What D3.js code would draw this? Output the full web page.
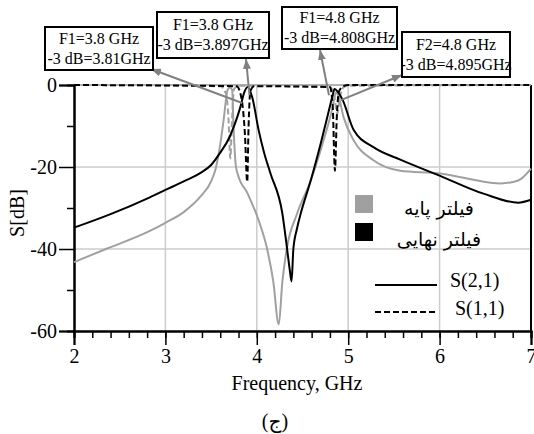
<!DOCTYPE html>
<html>
<head>
<meta charset="utf-8">
<script src="https://cdn.jsdelivr.net/npm/d3@7"></script>
<style>
  body { margin: 0; background: #fff; }
  svg { display: block; font-family: "Liberation Serif", "Times New Roman", "DejaVu Sans", serif; }
</style>
</head>
<body>
<svg id="chart" width="534" height="434"></svg>
<script>
// [frequency GHz, dB]
const baseS21 = [
  [2.0, -43.2], [2.35, -40.0], [2.83, -35.6], [3.0, -33.6], [3.2, -31.0],
  [3.38, -27.3], [3.5, -23.5], [3.55, -20.4], [3.6, -14.5], [3.64, -8.0], [3.68, -1.2],
  [3.705, -0.6], [3.73, -1.2], [3.745, -10.0], [3.77, -19.6], [3.79, -21.6], [3.9, -26.5],
  [4.02, -33.0], [4.11, -39.7], [4.18, -47.9], [4.24, -58.4], [4.28, -47.9], [4.33, -39.7],
  [4.44, -31.4], [4.59, -23.3], [4.73, -13.5], [4.83, -5.4], [4.865, -1.8], [4.89, -2.5],
  [4.95, -7.9], [5.06, -13.5], [5.28, -18.4], [5.57, -20.9], [6.01, -21.6], [6.3, -22.8],
  [6.67, -24.0], [6.86, -23.3], [7.0, -20.4]
];
const baseS11 = [
  [2.0, 0], [3.6, -0.3], [3.66, -2.0], [3.69, -8.0], [3.71, -17.9], [3.73, -8.0],
  [3.75, -1.0], [3.8, -0.2], [4.8, -0.5], [4.85, -3.0], [4.88, -7.0], [4.91, -3.0],
  [4.95, -0.5], [5.0, -0.2], [7.0, 0]
];
const finalS21 = [
  [2.0, -34.8], [2.4, -31.5], [2.83, -27.4], [3.0, -25.6], [3.2, -23.5],
  [3.38, -21.5], [3.5, -19.5], [3.6, -16.5], [3.7, -12.8], [3.76, -9.5], [3.82, -5.4],
  [3.86, -2.0], [3.9, -0.5], [3.95, -3.0], [4.02, -11.0], [4.08, -16.5], [4.15, -21.6],
  [4.28, -31.4], [4.33, -39.7], [4.36, -45.0], [4.38, -47.9], [4.40, -40.0], [4.44, -35.0],
  [4.48, -31.4], [4.59, -23.3], [4.70, -14.2], [4.79, -6.1], [4.83, -2.5], [4.85, -1.0],
  [4.88, -1.5], [4.94, -3.7], [5.06, -11.0], [5.28, -15.2], [5.57, -18.2], [6.0, -22.1],
  [6.48, -26.5], [6.86, -28.7], [7.0, -28.0]
];
const finalS11 = [
  [2.0, 0], [3.78, -0.3], [3.83, -3.0], [3.87, -12.0], [3.895, -23.6], [3.91, -10.0],
  [3.93, -1.5], [3.97, -0.3], [4.8, -0.5], [4.83, -5.0], [4.855, -20.9], [4.875, -8.0],
  [4.9, -1.5], [4.95, -0.3], [5.0, 0], [7.0, 0]
];

const xTicks = [2, 3, 4, 5, 6, 7];
const yTicks = [0, -20, -40, -60];
const notes = [
  ["F1=3.8 GHz", "-3 dB=3.81GHz"],
  ["F1=3.8 GHz", "-3 dB=3.897GHz"],
  ["F1=4.8 GHz", "-3 dB=4.808GHz"],
  ["F2=4.8 GHz", "-3 dB=4.895GHz"]
];
// where each arrow leaves the curves [GHz, dB]
const noteTargets = [[3.84, -4.4], [3.92, -2.5], [4.79, -2.5], [4.92, -3.7]];
const filterNames = ["فیلتر پایه", "فیلتر نهایی"];
const paramNames = ["S(2,1)", "S(1,1)"];

const svg = d3.select("#chart");
const x = d3.scaleLinear().domain([2, 7]).range([74, 531]);
const y = d3.scaleLinear().domain([0, -60]).range([85, 331]);
const grey = "#a0a0a0";
const fmt = d => String(d); // plain hyphen minus like the original

// grid
svg.append("g").selectAll("line").data([3, 4, 5, 6]).join("line")
  .attr("x1", d => x(d)).attr("x2", d => x(d))
  .attr("y1", y(0)).attr("y2", y(-60))
  .attr("stroke", "#cccccc").attr("stroke-width", 1.5);
svg.append("g").selectAll("line").data([-20, -40]).join("line")
  .attr("x1", x(2)).attr("x2", x(7))
  .attr("y1", d => y(d)).attr("y2", d => y(d))
  .attr("stroke", "#cccccc").attr("stroke-width", 1.5);

// frame: grey top, black right
svg.append("line").attr("x1", x(2)).attr("x2", x(7)).attr("y1", y(0)).attr("y2", y(0))
  .attr("stroke", "#999").attr("stroke-width", 1.5);
svg.append("line").attr("x1", x(7)).attr("x2", x(7)).attr("y1", y(0)).attr("y2", y(-60))
  .attr("stroke", "#000").attr("stroke-width", 2);

// axes
svg.append("g").attr("transform", `translate(0,${y(-60)})`)
  .call(d3.axisBottom(x).tickValues(d3.range(2, 7.01, 0.2)).tickSize(7).tickFormat(""));
svg.append("g").attr("transform", `translate(0,${y(-60)})`)
  .call(d3.axisBottom(x).tickValues(xTicks).tickSize(14).tickPadding(4).tickFormat(fmt));
svg.append("g").attr("transform", `translate(${x(2)},0)`)
  .call(d3.axisLeft(y).tickValues([-10, -30, -50]).tickSize(7).tickFormat(""));
svg.append("g").attr("transform", `translate(${x(2)},0)`)
  .call(d3.axisLeft(y).tickValues(yTicks).tickSize(15).tickPadding(2).tickFormat(fmt));
svg.selectAll(".domain").attr("stroke", "#000").attr("stroke-width", 2);
svg.selectAll(".tick line").attr("stroke", "#000").attr("stroke-width", 1.5);
svg.selectAll(".tick text").attr("font-family", "Liberation Serif").attr("font-size", 20).attr("fill", "#000");

// curves
const line = d3.line().x(d => x(d[0])).y(d => y(d[1])).curve(d3.curveMonotoneX);
const series = [
  { data: baseS21, color: grey, dash: null },
  { data: baseS11, color: grey, dash: "6,3" },
  { data: finalS21, color: "#000", dash: null },
  { data: finalS11, color: "#000", dash: "6,3" }
];
svg.append("g").selectAll("path").data(series).join("path")
  .attr("d", d => line(d.data))
  .attr("fill", "none")
  .attr("stroke", d => d.color)
  .attr("stroke-width", 2)
  .attr("stroke-dasharray", d => d.dash);

// annotation boxes and arrows
svg.append("defs").append("marker")
  .attr("id", "head").attr("viewBox", "0 0 10 8").attr("refX", 10).attr("refY", 4)
  .attr("markerWidth", 10).attr("markerHeight", 8).attr("markerUnits", "userSpaceOnUse")
  .attr("orient", "auto")
  .append("path").attr("d", "M0,0L10,4L0,8Z").attr("fill", "#808080");

const boxes = [
  { x: 45, y: 27, w: 108, h: 43, tip: [151, 69] },
  { x: 157, y: 12, w: 112, h: 46, tip: [246, 59] },
  { x: 282, y: 7, w: 115, h: 42, tip: [320, 50] },
  { x: 402, y: 32, w: 108, h: 45, tip: [402, 75] }
];
svg.append("g").selectAll("line").data(boxes).join("line")
  .attr("x1", (d, i) => x(noteTargets[i][0])).attr("y1", (d, i) => y(noteTargets[i][1]))
  .attr("x2", d => d.tip[0]).attr("y2", d => d.tip[1])
  .attr("stroke", "#808080").attr("stroke-width", 2)
  .attr("marker-end", "url(#head)");

const nb = svg.append("g").selectAll("g").data(boxes).join("g");
nb.append("rect")
  .attr("x", d => d.x).attr("y", d => d.y).attr("width", d => d.w).attr("height", d => d.h)
  .attr("fill", "#fff").attr("stroke", "#000").attr("stroke-width", 2);
nb.each(function (d, i) {
  d3.select(this).selectAll("text").data(notes[i]).join("text")
    .attr("x", d.x + d.w / 2)
    .attr("y", (t, j) => d.y + d.h / 2 + (j === 0 ? -5 : 15))
    .attr("text-anchor", "middle")
    .attr("font-size", 16)
    .text(t => t);
});

// legend
const legendColors = [grey, "#000"];
svg.append("g").selectAll("rect").data(filterNames).join("rect")
  .attr("x", 355).attr("y", (d, i) => 195 + i * 28)
  .attr("width", 18).attr("height", 18)
  .attr("fill", (d, i) => legendColors[i]);
svg.append("g").selectAll("text").data(filterNames).join("text")
  .attr("x", 439).attr("y", (d, i) => 215 + i * 31)
  .attr("text-anchor", "middle")
  .attr("font-family", "DejaVu Sans")
  .attr("font-size", 19)
  .text(d => d);

const legendDash = [null, "6,3"];
svg.append("g").selectAll("line").data(paramNames).join("line")
  .attr("x1", 375).attr("x2", 437)
  .attr("y1", (d, i) => 285 + i * 27).attr("y2", (d, i) => 285 + i * 27)
  .attr("stroke", "#000").attr("stroke-width", 2)
  .attr("stroke-dasharray", (d, i) => legendDash[i]);
svg.append("g").selectAll("text").data(paramNames).join("text")
  .attr("x", (d, i) => 450 + i * 5).attr("y", (d, i) => 287 + i * 28)
  .attr("font-size", 20)
  .text(d => d);

// axis titles
svg.append("text").attr("x", 297).attr("y", 390).attr("text-anchor", "middle")
  .attr("font-size", 20).text("Frequency, GHz");
svg.append("text").attr("transform", "translate(24,213) rotate(-90)")
  .attr("text-anchor", "middle").attr("font-size", 20).text("S[dB]");
svg.append("text").attr("x", 275).attr("y", 428).attr("text-anchor", "middle")
  .attr("font-size", 20).text("(ج)");
</script>
</body>
</html>
